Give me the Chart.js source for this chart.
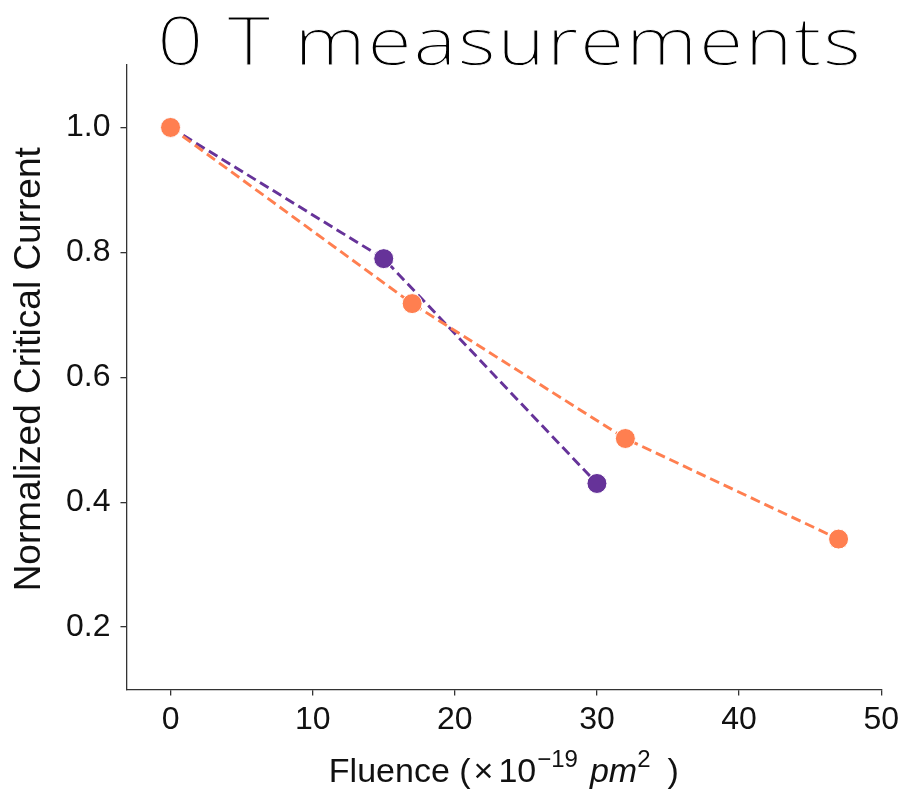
<!DOCTYPE html>
<html>
<head>
<meta charset="utf-8">
<script src="https://cdn.jsdelivr.net/npm/chart.js@4"></script>
<style>
  html, body { margin: 0; padding: 0; background: #fff; }
  #wrap { width: 904px; height: 792px; }
</style>
</head>
<body>
<div id="wrap"><canvas id="chart"></canvas></div>
<script>
const purpleFluence = [0, 15, 30];
const purpleCurrent = [1.0, 0.79, 0.43];
const orangeFluence = [0, 17, 32, 47];
const orangeCurrent = [1.0, 0.718, 0.502, 0.341];
const xTicks = [0, 10, 20, 30, 40, 50];
const yTicks = [0.2, 0.4, 0.6, 0.8, 1.0];

const SANS = "'Liberation Sans', Arial, sans-serif";

function toPoints(xs, ys) {
  return xs.map((x, i) => ({ x: x, y: ys[i] }));
}

// title and axis labels drawn by hand (thin title font, superscripts in x label)
const labelsPlugin = {
  id: "labels",
  afterDraw(chart) {
    const ctx = chart.ctx;
    const area = chart.chartArea;
    ctx.save();

    // title: regular weight eroded with a white stroke to look light
    ctx.font = "300 66px 'Open Sans'";
    ctx.letterSpacing = "1.5px";
    ctx.textAlign = "center";
    ctx.textBaseline = "alphabetic";
    ctx.translate((area.left + area.right) / 2 + 6, 65);
    ctx.scale(1.22, 1);
    ctx.fillStyle = "#000";
    ctx.fillText("0 T measurements", 0, 0);
    ctx.strokeStyle = "#fff";
    ctx.lineWidth = 0.9;
    ctx.lineJoin = "round";
    ctx.strokeText("0 T measurements", 0, 0);
    ctx.setTransform(1, 0, 0, 1, 0, 0);
    ctx.letterSpacing = "0px";

    // y title
    ctx.fillStyle = "#111";
    ctx.font = "37px " + SANS;
    ctx.translate(30, (area.top + area.bottom) / 2 - 8);
    ctx.rotate(-Math.PI / 2);
    ctx.textAlign = "center";
    ctx.textBaseline = "middle";
    ctx.fillText("Normalized Critical Current", 0, 0);
    ctx.setTransform(1, 0, 0, 1, 0, 0);

    // x title with superscripts
    const parts = [
      { t: "Fluence (", f: "34px " + SANS, dy: 0, gap: 3 },
      { t: "\u00d7", f: "34px " + SANS, dy: 0, gap: 5 },
      { t: "10", f: "34px " + SANS, dy: 0, gap: 1 },
      { t: "\u221219", f: "24px " + SANS, dy: -15, gap: 12 },
      { t: "pm", f: "italic 34px " + SANS, dy: 0, gap: 0 },
      { t: "2", f: "24px " + SANS, dy: -15, gap: 17 },
      { t: ")", f: "34px " + SANS, dy: 0, gap: 0 },
    ];
    let total = 0;
    parts.forEach((p) => {
      ctx.font = p.f;
      p.w = ctx.measureText(p.t).width;
      total += p.w + p.gap;
    });
    let x = (area.left + area.right) / 2 - total / 2;
    ctx.textAlign = "left";
    ctx.textBaseline = "alphabetic";
    parts.forEach((p) => {
      ctx.font = p.f;
      ctx.fillText(p.t, x, 782 + p.dy);
      x += p.w + p.gap;
    });
    ctx.restore();
  },
};

const tickFont = { family: SANS, size: 32 };

function lineDataset(label, xs, ys, color, order) {
  return {
    label: label,
    data: toPoints(xs, ys),
    order: order,
    borderColor: color,
    backgroundColor: color,
    borderWidth: 2.9,
    borderDash: [10, 5],
    pointRadius: 10,
    pointHoverRadius: 10,
    pointBorderColor: "#fff",
    pointBorderWidth: 1,
    tension: 0,
  };
}

new Chart(document.getElementById("chart"), {
  type: "line",
  data: {
    datasets: [
      lineDataset("purple", purpleFluence, purpleCurrent, "#663399", 1),
      lineDataset("orange", orangeFluence, orangeCurrent, "#FF7F50", 0),
    ],
  },
  options: {
    responsive: true,
    maintainAspectRatio: false,
    animation: false,
    layout: { padding: { top: 65, right: 8, bottom: 48, left: 56 } },
    plugins: {
      legend: { display: false },
      tooltip: { enabled: false },
    },
    scales: {
      x: {
        type: "linear",
        min: -3.1,
        max: 50,
        afterBuildTicks: (scale) => {
          scale.ticks = xTicks.map((v) => ({ value: v }));
        },
        grid: { drawOnChartArea: false, drawTicks: true, tickLength: 6, color: "#333", lineWidth: 1.3 },
        border: { display: true, color: "#333", width: 1.3 },
        ticks: { color: "#111", font: tickFont, padding: 5, maxRotation: 0 },
      },
      y: {
        type: "linear",
        min: 0.1,
        max: 1.1,
        afterBuildTicks: (scale) => {
          scale.ticks = yTicks.map((v) => ({ value: v }));
        },
        grid: { drawOnChartArea: false, drawTicks: true, tickLength: 6, color: "#333", lineWidth: 1.3 },
        border: { display: true, color: "#333", width: 1.3 },
        ticks: {
          color: "#111",
          font: tickFont,
          padding: 10,
          callback: (v) => v.toFixed(1),
        },
      },
    },
  },
  plugins: [labelsPlugin],
});
</script>
</body>
</html>
